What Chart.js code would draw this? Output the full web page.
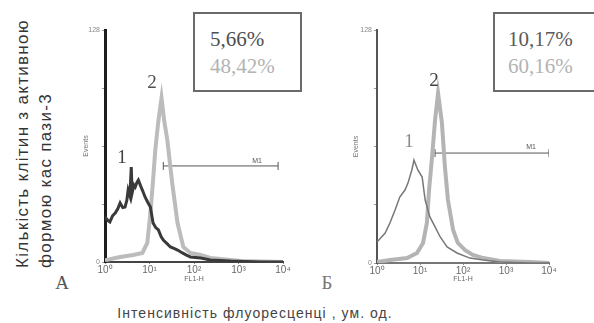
<!DOCTYPE html>
<html>
<head>
<meta charset="utf-8">
<script src="https://cdn.jsdelivr.net/npm/chart.js@4.4.0/dist/chart.umd.min.js"></script>
<style>
  html, body { margin:0; padding:0; background:#fff; }
  #wrap { position:relative; width:594px; height:323px; overflow:hidden; background:#fff; }
  canvas { position:absolute; }
  .lbl { position:absolute; transform:translate(-50%,-50%); white-space:nowrap; }
  .serif { font-family:"Liberation Serif","DejaVu Serif",serif; }
  .sans { font-family:"Liberation Sans",Arial,sans-serif; }
  .box { position:absolute; border:2px solid #6a6a6a; background:#fff; box-sizing:border-box; }
  .box div { position:absolute; text-align:left; font-family:"Liberation Serif","DejaVu Serif",serif; font-size:21px; }
  #ytitle { position:absolute; left:11px; top:268px; transform:rotate(-90deg); transform-origin:left top;
            font-family:"Liberation Sans",Arial,sans-serif; font-size:17px; letter-spacing:1.3px; line-height:23px; color:#333; white-space:nowrap; }
</style>
</head>
<body>
<div id="wrap">
  <canvas id="cA" width="230" height="277" style="left:70px;top:10px;width:230px;height:277px"></canvas>
  <canvas id="cB" width="254" height="277" style="left:340px;top:10px;width:254px;height:277px"></canvas>

  <div id="ytitle">Кількість клітин з активною<br>формою кас пази-3</div>

  <div class="box" style="left:193px;top:12px;width:109px;height:80px">
    <div style="left:15px;top:13px;color:#4f4f4f">5,66%</div>
    <div style="left:15px;top:40px;color:#b3b3b3">48,42%</div>
  </div>
  <div class="box" style="left:493px;top:12px;width:103px;height:80px">
    <div style="left:13px;top:13px;color:#5a5a5a">10,17%</div>
    <div style="left:13px;top:40px;color:#b3b3b3">60,16%</div>
  </div>

  <div class="lbl serif" style="left:122px;top:157px;font-size:19px;color:#404040">1</div>
  <div class="lbl serif" style="left:152px;top:82px;font-size:19px;color:#505050">2</div>
  <div class="lbl serif" style="left:409px;top:141px;font-size:19px;color:#8a8a8a">1</div>
  <div class="lbl serif" style="left:434px;top:80px;font-size:19px;color:#404040">2</div>

  <div class="lbl sans" style="left:257px;top:160px;font-size:7px;color:#555">M1</div>
  <div class="lbl sans" style="left:531px;top:146px;font-size:7px;color:#555">M1</div>

  <div class="lbl serif" style="left:62px;top:283px;font-size:19px;color:#555">A</div>
  <div class="lbl serif" style="left:327px;top:283px;font-size:19px;color:#777">Б</div>

  <div class="lbl sans" style="left:255px;top:313px;font-size:14px;letter-spacing:1.05px;color:#444">Інтенсивність флуоресценці , ум. од.</div>
</div>

<script>
// ---- tick labels (log decades of FL1-H) ----
const xTickLabels = ['10⁰', '10¹', '10²', '10³', '10⁴'];
const yTickLabels = { 0: '0', 128: '128' };

// ---- Panel A: curve 1 (control, dark) ----
const decA1 = [0.00, 0.06, 0.11, 0.17, 0.23, 0.29, 0.34, 0.40, 0.45, 0.49, 0.52, 0.56, 0.59, 0.61, 0.65, 0.68, 0.72, 0.75, 0.80, 0.84, 0.90, 0.96, 1.02, 1.08, 1.14, 1.20, 1.26, 1.31, 1.40, 1.47, 1.55, 1.63, 1.74, 1.83, 1.92, 2.15, 2.37, 2.82, 3.50, 4.00];
const cntA1 = [24.8, 23.0, 22.1, 25.5, 27.0, 29.5, 32.6, 30.0, 30.3, 34.0, 39.7, 36.5, 52.4, 38.1, 42.5, 41.4, 44.0, 45.2, 42.0, 39.7, 35.9, 33.0, 30.3, 21.5, 19.0, 17.7, 14.0, 12.1, 10.0, 8.3, 7.5, 6.6, 5.0, 3.8, 2.8, 2.2, 1.1, 0.5, 0.0, 0.0];

// ---- Panel A: curve 2 (treated, light) ----
const decA2 = [0.00, 0.34, 0.63, 0.84, 0.95, 1.02, 1.08, 1.13, 1.20, 1.27, 1.33, 1.40, 1.51, 1.63, 1.76, 1.92, 2.15, 2.37, 2.60, 3.05, 4.00];
const cntA2 = [1.0, 2.8, 3.9, 5.0, 10.5, 27.0, 45.0, 61.8, 78.0, 90.5, 78.0, 67.3, 43.6, 21.5, 8.3, 5.0, 3.9, 2.2, 1.7, 0.5, 0.0];

// ---- Panel Б: curve 1 (control, thin) ----
const decB1 = [0.00, 0.19, 0.30, 0.42, 0.53, 0.65, 0.72, 0.81, 0.86, 0.95, 1.05, 1.12, 1.23, 1.35, 1.47, 1.63, 1.86, 2.16, 2.47, 2.86, 3.56, 4.00];
const cntB1 = [11.5, 16.5, 22.0, 29.1, 36.2, 40.1, 43.9, 51.1, 56.5, 51.1, 47.2, 34.6, 25.3, 19.8, 14.3, 8.8, 5.5, 2.7, 1.6, 0.5, 0.0, 0.0];

// ---- Panel Б: curve 2 (treated, light) ----
const decB2 = [0.00, 0.30, 0.70, 0.93, 1.07, 1.16, 1.21, 1.28, 1.35, 1.42, 1.51, 1.58, 1.65, 1.77, 1.88, 2.05, 2.23, 2.47, 2.86, 3.56, 4.00];
const cntB2 = [0.5, 1.6, 2.7, 5.5, 11.0, 22.0, 40.0, 58.2, 78.5, 93.3, 76.9, 52.7, 34.6, 18.1, 11.0, 7.1, 4.4, 2.7, 1.1, 0.5, 0.0];

// ---- M1 gate markers: [start decade, end decade, height in counts] ----
const gateA = [1.31, 3.89, 53];
const gateB = [1.35, 4.00, 60.4];

function pts(xs, ys) { return xs.map((x, i) => ({ x: x, y: ys[i] })); }

function makeChart(id, c1, c2, gate, st) {
  return new Chart(document.getElementById(id), {
    type: 'line',
    data: {
      datasets: [
        { data: pts(c1[0], c1[1]), borderColor: st.c1color, borderWidth: st.c1width, pointRadius: 0, tension: 0, order: 0 },
        { data: pts(c2[0], c2[1]), borderColor: st.c2color, borderWidth: 4, pointRadius: 0, tension: 0, order: 1 },
        { data: [{ x: gate[0], y: gate[2] }, { x: gate[1], y: gate[2] }], borderColor: '#555', borderWidth: 1,
          pointStyle: 'line', rotation: 90, pointRadius: 4, pointBorderWidth: 1, pointBorderColor: '#555', tension: 0, order: 2 }
      ]
    },
    options: {
      responsive: false,
      animation: false,
      events: [],
      layout: { padding: { top: 20, right: st.padRight, left: 0, bottom: 0 } },
      plugins: { legend: { display: false }, tooltip: { enabled: false } },
      scales: {
        x: {
          type: 'linear', min: 0, max: 4,
          afterFit: s => { s.height = st.xh; },
          ticks: { stepSize: 1, autoSkip: false, maxRotation: 0, padding: 0,
                   font: { size: 10, family: 'Liberation Sans' }, color: '#6a6a6a',
                   callback: v => xTickLabels[v] },
          grid: { drawOnChartArea: false, drawTicks: true, tickLength: 2, color: '#888' },
          border: { color: st.xAxisColor, width: 2 },
          title: { display: true, text: st.xtitle, font: { size: 7, family: 'Liberation Sans' }, color: '#666', padding: { top: -1 } }
        },
        y: {
          type: 'linear', min: 0, max: 128,
          afterFit: s => { s.width = st.yw; },
          ticks: { stepSize: 32, autoSkip: false, padding: 2,
                   font: { size: 7, family: 'Liberation Sans' }, color: '#888',
                   callback: v => (yTickLabels[v] !== undefined ? yTickLabels[v] : '') },
          grid: { drawOnChartArea: false, drawTicks: true, tickLength: 3, color: '#999' },
          border: { color: st.yAxisColor, width: st.yAxisWidth },
          title: { display: true, text: 'Events', font: { size: 7, family: 'Liberation Sans' }, color: '#777', padding: { bottom: 0, top: 12 } }
        }
      }
    }
  });
}

makeChart('cA', [decA1, cntA1], [decA2, cntA2], gateA,
  { c1color: '#3a3a3a', c1width: 3, c2color: '#bcbcbc', padRight: 17, xh: 25, yw: 35,
    xAxisColor: '#444', yAxisColor: '#1e1e1e', yAxisWidth: 3, xtitle: 'FL1-H' });
makeChart('cB', [decB1, cntB1], [decB2, cntB2], gateB,
  { c1color: '#777777', c1width: 1.5, c2color: '#b4b4b4', padRight: 45, xh: 24, yw: 37,
    xAxisColor: '#777', yAxisColor: '#555', yAxisWidth: 2, xtitle: 'FL1-H' });
</script>
</body>
</html>
